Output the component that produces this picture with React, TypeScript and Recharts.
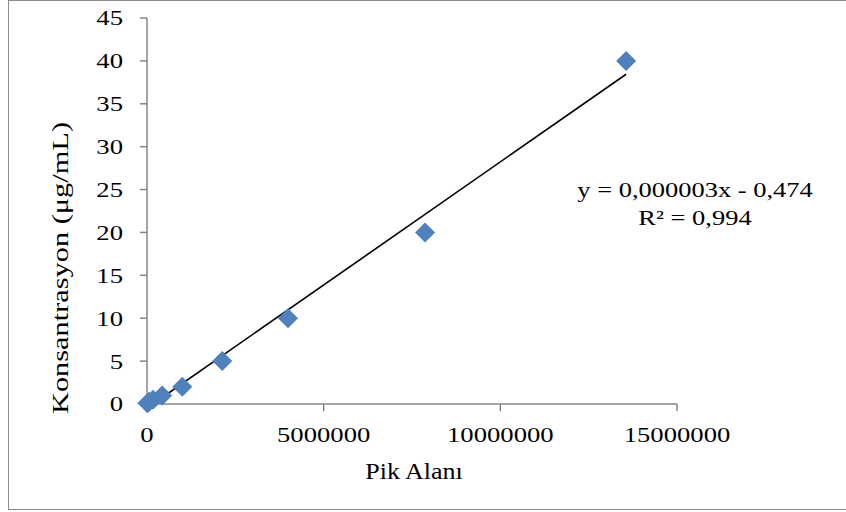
import { ScatterChart, Scatter, XAxis, YAxis, ReferenceLine } from 'recharts';

// Pik alanı (x) vs konsantrasyon (y)
const pikAlani = [10000, 60000, 170000, 430000, 1000000, 2130000, 3990000, 7870000, 13560000];
const konsantrasyon = [0.1, 0.25, 0.5, 1, 2, 5, 10, 20, 40];

const xTicks = [0, 5000000, 10000000, 15000000];
const yTicks = [0, 5, 10, 15, 20, 25, 30, 35, 40, 45];

// linear trendline as drawn (label rounds the slope)
const trendSlope = 0.00000287;
const trendIntercept = -0.474;
const equationText = 'y = 0,000003x - 0,474';
const r2Text = 'R² = 0,994';

const data = pikAlani.map((x, i) => ({ x, y: konsantrasyon[i] }));

const trendStartX = -trendIntercept / trendSlope;
const trendEndX = Math.max(...pikAlani);

const FONT = '"Liberation Serif", "Times New Roman", serif';
const AXIS_COLOR = '#868686';
const WIDE = 1.27; // reference text is drawn wide

const Diamond = (props: any) => {
  const { cx, cy } = props;
  const r = 10;
  return (
    <polygon
      points={`${cx},${cy - r} ${cx + r},${cy} ${cx},${cy + r} ${cx - r},${cy}`}
      fill="#4f81bd"
    />
  );
};

const WideTick = (props: any) => {
  const { x, y, payload, textAnchor, orientation } = props;
  return (
    <text
      transform={`translate(${x},${y}) scale(${WIDE},1)`}
      textAnchor={textAnchor}
      dy={orientation === 'bottom' ? '0.71em' : '0.355em'}
      fontSize={21}
      fontFamily={FONT}
      fill="#000"
    >
      {payload.value}
    </text>
  );
};

export default function App() {
  return (
    <div style={{ position: 'absolute', left: 0, top: 0, width: 846, height: 512, background: '#fff', overflow: 'hidden', fontFamily: FONT }}>
      <div style={{ position: 'absolute', left: 8, top: 0, width: 860, height: 510, border: '1.5px solid #8c8c8c', boxSizing: 'border-box' }} />
      <ScatterChart width={846} height={512} margin={{ top: 18, right: 169, bottom: 78, left: 67 }}>
        <XAxis
          type="number"
          dataKey="x"
          domain={[0, 15000000]}
          ticks={xTicks}
          tickSize={7}
          tickMargin={16}
          height={30}
          stroke={AXIS_COLOR}
          strokeWidth={1.5}
          tick={<WideTick orientation="bottom" />}
        />
        <YAxis
          type="number"
          dataKey="y"
          domain={[0, 45]}
          ticks={yTicks}
          tickSize={7}
          tickMargin={17}
          width={80}
          stroke={AXIS_COLOR}
          strokeWidth={1.5}
          tick={<WideTick orientation="left" />}
        />
        <ReferenceLine
          segment={[
            { x: trendStartX, y: trendSlope * trendStartX + trendIntercept },
            { x: trendEndX, y: trendSlope * trendEndX + trendIntercept },
          ]}
          stroke="#000"
          strokeWidth={1.6}
        />
        <Scatter data={data} shape={<Diamond />} isAnimationActive={false} />
      </ScatterChart>

      <div style={{ position: 'absolute', left: 414, top: 472, width: 0, height: 0 }}>
        <div style={{ position: 'absolute', left: 0, top: 0, transform: 'translate(-50%, -50%) scale(1.13, 1)', fontSize: 23, whiteSpace: 'nowrap' }}>
          Pik Alanı
        </div>
      </div>

      {/* rotated axis title: rotate the anchor, then stretch along the baseline */}
      <div style={{ position: 'absolute', left: 61, top: 268, width: 0, height: 0, transform: 'rotate(-90deg)', transformOrigin: '0 0' }}>
        <span style={{ position: 'absolute', left: 0, top: 0, display: 'inline-block', transform: 'translate(-50%, -50%) scaleX(1.32)', fontSize: 23, whiteSpace: 'nowrap', lineHeight: '26px' }}>
          Konsantrasyon (μg/mL)
        </span>
      </div>

      <div style={{ position: 'absolute', left: 695, top: 204, width: 0, height: 0 }}>
        <div style={{ position: 'absolute', left: 0, top: 0, transform: 'translate(-50%, -50%) scale(1.26, 1)', fontSize: 21, whiteSpace: 'nowrap', textAlign: 'center', lineHeight: '28px' }}>
          <div>{equationText}</div>
          <div>{r2Text}</div>
        </div>
      </div>
    </div>
  );
}
